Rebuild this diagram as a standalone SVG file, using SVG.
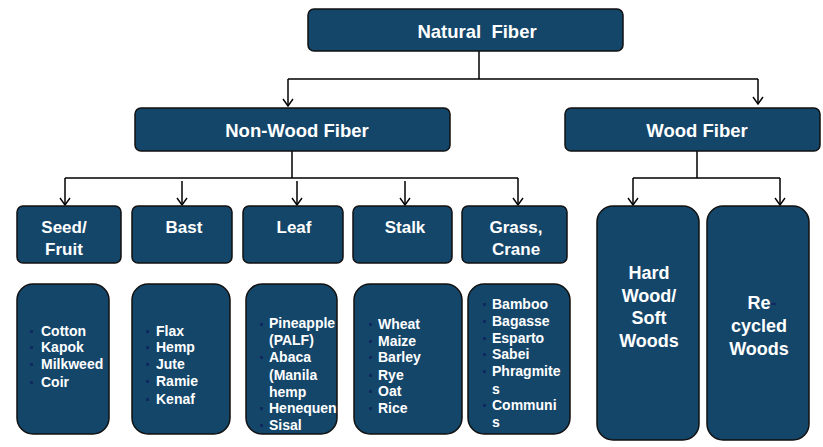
<svg xmlns="http://www.w3.org/2000/svg" width="823" height="447" viewBox="0 0 823 447">
<defs>
<marker id="arr" markerWidth="12" markerHeight="12" refX="10" refY="6" orient="auto" markerUnits="userSpaceOnUse" viewBox="0 0 12 12">
<polyline points="3,1 10,6 3,11" fill="none" stroke="#000" stroke-width="1.4"/>
</marker>
<style>
.box{fill:#14466a;stroke:#111;stroke-width:1.5}
.t{font-family:"Liberation Sans",Arial,sans-serif;font-weight:bold;fill:#fff}
.h1{font-size:18.5px;text-anchor:middle}
.h2{font-size:17px;text-anchor:middle}
.h3{font-size:18px;text-anchor:middle}
.li{font-size:14px}
.bl{fill:#0e2a60}
.c{fill:none;stroke:#000;stroke-width:1.5}
.a{fill:none;stroke:#000;stroke-width:1.5;marker-end:url(#arr)}
</style>
</defs>
<g id="connectors">
<path class="c" d="M479,51V79M288,79H758"/>
<path class="a" d="M288,79V106"/>
<path class="a" d="M758,79V104"/>
<path class="c" d="M292,151V178M65,178H518"/>
<path class="a" d="M65,178V205"/>
<path class="a" d="M182,181V205"/>
<path class="a" d="M297,181V205"/>
<path class="a" d="M405,181V205"/>
<path class="a" d="M518,178V205"/>
<path class="c" d="M697,151V178M633,178H780"/>
<path class="a" d="M633,178V205"/>
<path class="a" d="M780,178V205"/>
</g>
<g id="natural-fiber"><rect class="box" x="308" y="9" width="315" height="42" rx="6"/><text class="t h1" x="477" y="38" xml:space="preserve">Natural  Fiber</text></g>
<g id="non-wood-fiber"><rect class="box" x="135" y="108" width="315" height="43" rx="6"/><text class="t h1" x="297" y="137">Non-Wood Fiber</text></g>
<g id="wood-fiber"><rect class="box" x="565" y="108" width="255" height="43" rx="6"/><text class="t h1" x="697" y="137">Wood Fiber</text></g>
<g id="seed-fruit"><rect class="box" x="17" y="206" width="104" height="57" rx="6"/><text class="t h2" x="64" y="233">Seed/</text><text class="t h2" x="64" y="255">Fruit</text></g>
<g id="bast"><rect class="box" x="132" y="206" width="100" height="57" rx="6"/><text class="t h2" x="184" y="233">Bast</text></g>
<g id="leaf"><rect class="box" x="243" y="206" width="100" height="57" rx="6"/><text class="t h2" x="294" y="233">Leaf</text></g>
<g id="stalk"><rect class="box" x="353" y="206" width="99" height="57" rx="6"/><text class="t h2" x="405" y="233">Stalk</text></g>
<g id="grass-crane"><rect class="box" x="462" y="206" width="105" height="57" rx="6"/><text class="t h2" x="516" y="233">Grass,</text><text class="t h2" x="516" y="255">Crane</text></g>
<g id="seed-list"><rect class="box" x="17" y="284" width="92" height="150" rx="16"/>
<rect class="bl" x="30" y="330" width="3" height="3"/><rect class="bl" x="30" y="346" width="3" height="3"/><rect class="bl" x="30" y="363" width="3" height="3"/><rect class="bl" x="30" y="381" width="3" height="3"/>
<text class="t li" x="41" y="336">Cotton</text><text class="t li" x="41" y="352">Kapok</text><text class="t li" x="41" y="369">Milkweed</text><text class="t li" x="41" y="387">Coir</text></g>
<g id="bast-list"><rect class="box" x="132" y="284" width="98" height="150" rx="16"/>
<rect class="bl" x="146" y="330" width="3" height="3"/><rect class="bl" x="146" y="346" width="3" height="3"/><rect class="bl" x="146" y="363" width="3" height="3"/><rect class="bl" x="146" y="380" width="3" height="3"/><rect class="bl" x="146" y="398" width="3" height="3"/>
<text class="t li" x="156" y="336">Flax</text><text class="t li" x="156" y="352">Hemp</text><text class="t li" x="156" y="369">Jute</text><text class="t li" x="156" y="386">Ramie</text><text class="t li" x="156" y="404">Kenaf</text></g>
<g id="leaf-list"><rect class="box" x="246" y="284" width="91" height="150" rx="16"/>
<rect class="bl" x="260" y="323" width="3" height="3"/><rect class="bl" x="260" y="356" width="3" height="3"/><rect class="bl" x="260" y="407" width="3" height="3"/><rect class="bl" x="260" y="424" width="3" height="3"/>
<text class="t li" x="269" y="328">Pineapple</text><text class="t li" x="269" y="345">(PALF)</text><text class="t li" x="269" y="362">Abaca</text><text class="t li" x="269" y="380">(Manila</text><text class="t li" x="269" y="397">hemp</text><text class="t li" x="269" y="413">Henequen</text><text class="t li" x="269" y="430">Sisal</text></g>
<g id="stalk-list"><rect class="box" x="354" y="284" width="108" height="150" rx="16"/>
<rect class="bl" x="369" y="323" width="3" height="3"/><rect class="bl" x="369" y="340" width="3" height="3"/><rect class="bl" x="369" y="356" width="3" height="3"/><rect class="bl" x="369" y="374" width="3" height="3"/><rect class="bl" x="369" y="390" width="3" height="3"/><rect class="bl" x="369" y="407" width="3" height="3"/>
<text class="t li" x="378" y="329">Wheat</text><text class="t li" x="378" y="346">Maize</text><text class="t li" x="378" y="362">Barley</text><text class="t li" x="378" y="380">Rye</text><text class="t li" x="378" y="396">Oat</text><text class="t li" x="378" y="413">Rice</text></g>
<g id="grass-list"><rect class="box" x="468" y="284" width="102" height="150" rx="16"/>
<rect class="bl" x="483" y="303" width="3" height="3"/><rect class="bl" x="483" y="320" width="3" height="3"/><rect class="bl" x="483" y="337" width="3" height="3"/><rect class="bl" x="483" y="353" width="3" height="3"/><rect class="bl" x="483" y="370" width="3" height="3"/><rect class="bl" x="483" y="404" width="3" height="3"/>
<text class="t li" x="492" y="309">Bamboo</text><text class="t li" x="492" y="326">Bagasse</text><text class="t li" x="492" y="343">Esparto</text><text class="t li" x="492" y="359">Sabei</text><text class="t li" x="492" y="376">Phragmite</text><text class="t li" x="492" y="394">s</text><text class="t li" x="492" y="410">Communi</text><text class="t li" x="492" y="427">s</text></g>
<g id="hard-soft-woods"><rect class="box" x="597" y="206" width="102" height="234" rx="16"/>
<text class="t h3" x="649" y="279">Hard</text><text class="t h3" x="649" y="302">Wood/</text><text class="t h3" x="649" y="324">Soft</text><text class="t h3" x="649" y="347">Woods</text></g>
<g id="recycled-woods"><rect class="box" x="707" y="206" width="102" height="234" rx="16"/>
<text class="t h3" x="762" y="309">Re<tspan fill="#0e2a60">-</tspan></text><text class="t h3" x="759" y="332">cycled</text><text class="t h3" x="759" y="355">Woods</text></g>
</svg>
